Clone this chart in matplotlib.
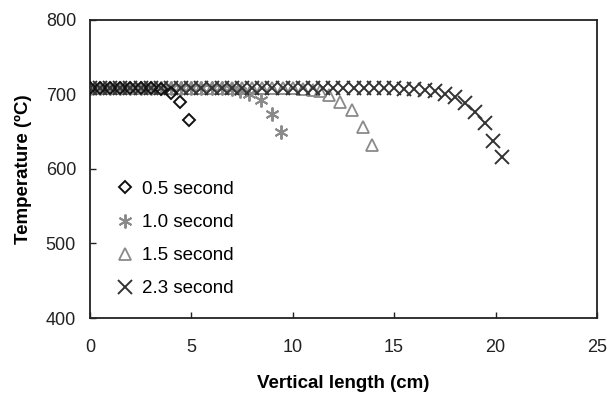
import matplotlib
matplotlib.use("Agg")
import matplotlib.pyplot as plt

plt.rcParams['font.family'] = ['Liberation Sans', 'DejaVu Sans']

# temperature profiles along the sample (cm, degC)
x_05 = [0, 0.5, 1.0, 1.5, 2.0, 2.5, 3.0, 3.5, 4.0, 4.45, 4.9]
t_05 = [708, 708, 708, 708, 708, 708, 708, 707, 702, 690, 666]

x_10 = [0, 0.5, 1.0, 1.5, 2.0, 2.5, 3.0, 3.5, 4.0, 4.5, 5.0, 5.5, 6.0, 6.5,
        7.0, 7.4, 7.85, 8.45, 9.0, 9.4]
t_10 = [708, 708, 708, 708, 708, 708, 708, 708, 708, 708, 708, 708, 708, 708,
        707, 705, 700, 692, 674, 650]

x_15 = [0, 0.5, 1.0, 1.5, 2.0, 2.5, 3.0, 3.5, 4.0, 4.5, 5.0, 5.5, 6.0, 6.5,
        7.0, 7.5, 8.0, 8.5, 9.0, 9.5, 10.0, 10.5, 11.0, 11.35, 11.8, 12.35,
        12.9, 13.45, 13.9]
t_15 = [708, 708, 708, 708, 708, 708, 708, 708, 708, 708, 708, 708, 708, 708,
        708, 708, 708, 708, 708, 708, 708, 707, 706, 704, 699, 690,
        679, 656, 632]

x_23 = [0, 0.5, 1.0, 1.5, 2.0, 2.5, 3.0, 3.5, 4.0, 4.5, 5.0, 5.5, 6.0, 6.5,
        7.0, 7.5, 8.0, 8.5, 9.0, 9.5, 10.0, 10.5, 11.0, 11.5, 12.0, 12.5,
        13.0, 13.5, 14.0, 14.5, 15.0, 15.5, 16.0, 16.5, 17.0, 17.5, 18.0,
        18.5, 19.0, 19.5, 19.9, 20.3]
t_23 = [708, 708, 708, 708, 708, 708, 708, 708, 708, 708, 708, 708, 708, 708,
        708, 708, 708, 708, 708, 708, 708, 708, 708, 708, 708, 708,
        708, 708, 708, 708, 708, 707, 707, 706, 704, 701, 697,
        689, 676, 662, 638, 616]

fig = plt.figure(figsize=(6.16, 3.98), dpi=100)
ax = fig.add_axes([0.146, 0.201, 0.823, 0.749])

ax.plot(x_23, t_23, linestyle='none', marker='x', markersize=10, mew=1.4,
        color='#333333', label='2.3 second', zorder=3)
ax.plot(x_15, t_15, linestyle='none', marker='^', markersize=8, mew=1.3,
        mfc='none', color='#8a8a8a', label='1.5 second', zorder=2)
ax.plot(x_10, t_10, linestyle='none', marker=(6, 2, 0), markersize=10, mew=1.4,
        color='#8a8a8a', label='1.0 second', zorder=2)
ax.plot(x_05, t_05, linestyle='none', marker='D', markersize=6, mew=1.4,
        mfc='none', color='#111111', label='0.5 second', zorder=4)

ax.set_xlim(0, 25)
ax.set_ylim(400, 800)
ax.set_xticks([0, 5, 10, 15, 20, 25])
ax.set_yticks([400, 500, 600, 700, 800])
ax.tick_params(direction='in', length=4, width=1, labelsize=13,
               colors='#222222')
ax.tick_params(axis='x', pad=15)
ax.tick_params(axis='y', pad=10)
for s in ax.spines.values():
    s.set_linewidth(1.3)
    s.set_color('#222222')

ax.set_xlabel('Vertical length (cm)', fontsize=13.5, fontweight='bold',
              labelpad=14)
ax.set_ylabel('Temperature (ºC)', fontsize=13.5, fontweight='bold',
              labelpad=10)

h, l = ax.get_legend_handles_labels()
ax.legend(h[::-1], l[::-1], loc='upper left', bbox_to_anchor=(0.036, 0.485),
          frameon=False, fontsize=13.5, handlelength=1.0, handletextpad=0.4,
          labelspacing=0.85, borderaxespad=0)

fig.savefig('out.png', dpi=100)
